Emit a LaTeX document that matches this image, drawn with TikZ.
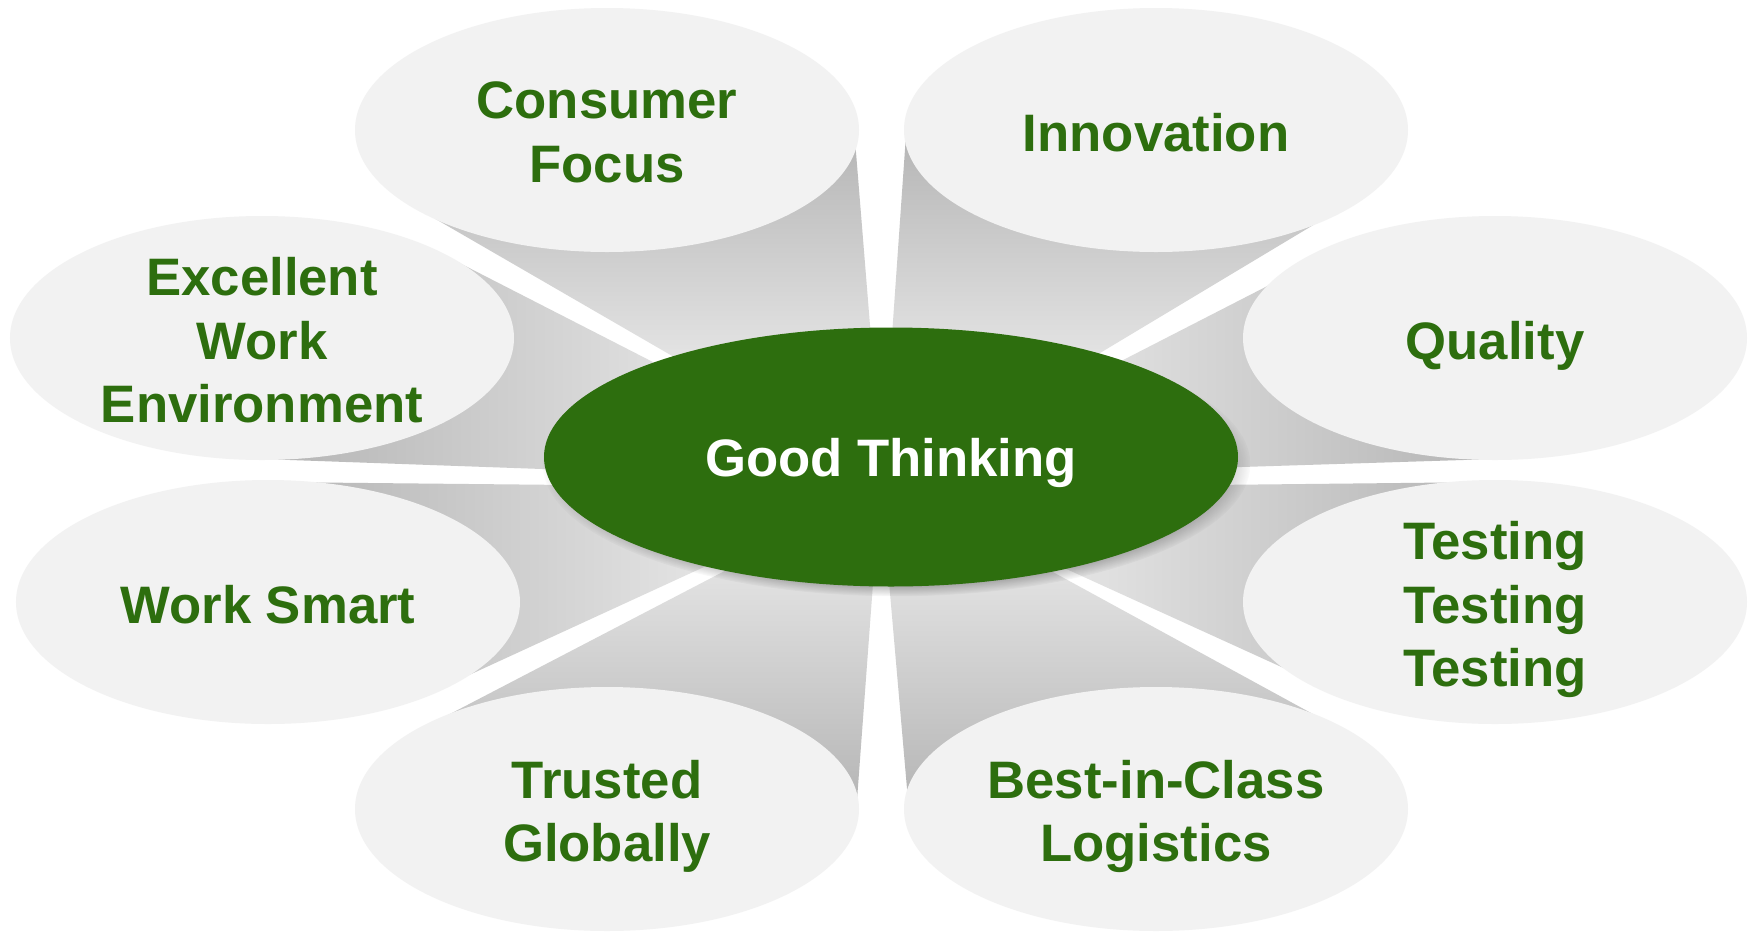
\documentclass[tikz,border=0pt]{standalone}
\usepackage{fontspec}
\setmainfont{Liberation Sans}
\usetikzlibrary{shapes.geometric,shadows}
\definecolor{goodgreen}{RGB}{45,110,14}
\definecolor{petalgray}{RGB}{242,242,242}
\definecolor{raydark}{RGB}{180,180,180}
\definecolor{raylight}{RGB}{248,248,248}
\tikzset{
  petal/.style={ellipse, fill=petalgray, minimum width=5.04cm, minimum height=2.44cm, inner sep=0pt},
  petaltext/.style={text=goodgreen, font=\fontsize{15}{18}\selectfont\bfseries, align=center,
    text depth=0pt, yshift=-0.02cm},
  hub/.style={ellipse, fill=goodgreen, minimum width=6.94cm, minimum height=2.59cm, inner sep=0pt,
    text=white, font=\fontsize{15}{18}\selectfont\bfseries, text depth=0pt,
    circular drop shadow={shadow xshift=1.5pt, shadow yshift=-2pt, shadow scale=1.02, fill=black, opacity=0.45}},
  upray/.style={top color=raydark, bottom color=raylight},
  downray/.style={top color=raylight, bottom color=raydark},
  leftray/.style={left color=raydark, right color=raylight},
  rightray/.style={left color=raylight, right color=raydark}
}
\begin{document}
\begin{tikzpicture}
  \fill[white] (0,0) rectangle (17.54,9.31);
  \useasboundingbox (0,0) rectangle (17.54,9.31);
  \coordinate (c) at (8.91,4.74);
  \shade[upray] (8.72,5.81) -- (8.55,7.91) -- (6.07,8.01) -- (4.20,7.21) -- (7.00,5.59) -- (c) -- cycle;
  \shade[upray] (8.91,5.81) -- (9.06,7.96) -- (11.56,8.01) -- (13.40,7.22) -- (10.80,5.66) -- (c) -- cycle;
  \shade[leftray] (6.90,5.50) -- (4.40,6.78) -- (2.62,5.93) -- (2.62,4.72) -- (5.70,4.61) -- (c) -- cycle;
  \shade[rightray] (10.90,5.54) -- (12.83,6.53) -- (14.95,5.93) -- (14.95,4.72) -- (12.10,4.63) -- (c) -- cycle;
  \shade[leftray] (5.70,4.46) -- (2.68,4.49) -- (2.68,3.29) -- (4.30,2.38) -- (7.30,3.76) -- (c) -- cycle;
  \shade[rightray] (12.10,4.46) -- (14.95,4.49) -- (14.95,3.29) -- (13.10,2.51) -- (10.40,3.74) -- (c) -- cycle;
  \shade[downray] (7.40,3.68) -- (4.25,2.04) -- (6.07,1.22) -- (8.57,1.31) -- (8.74,3.61) -- (c) -- cycle;
  \shade[downray] (8.88,3.61) -- (9.08,1.31) -- (11.56,1.22) -- (13.33,2.06) -- (10.40,3.66) -- (c) -- cycle;

  \node[petal] (consumer) at (6.07,8.01) {};
  \node[petal] (innovation) at (11.56,8.01) {};
  \node[petal] (workplace) at (2.62,5.93) {};
  \node[petal] (quality) at (14.95,5.93) {};
  \node[petal] (smart) at (2.68,3.29) {};
  \node[petal] (testing) at (14.95,3.29) {};
  \node[petal] (trusted) at (6.07,1.22) {};
  \node[petal] (logistics) at (11.56,1.22) {};

  \node[petaltext] (consumer-t) at (consumer) {Consumer\\Focus};
  \node[petaltext] (innovation-t) at (innovation) {Innovation};
  \node[petaltext] (workplace-t) at (workplace) {Excellent\\Work\\Environment};
  \node[petaltext] (quality-t) at (quality) {Quality};
  \node[petaltext] (smart-t) at (smart) {Work Smart};
  \node[petaltext] (testing-t) at (testing) {Testing\\Testing\\Testing};
  \node[petaltext] (trusted-t) at (trusted) {Trusted\\Globally};
  \node[petaltext] (logistics-t) at (logistics) {Best-in-Class\\Logistics};

  \node[hub] (hub) at (c) {Good Thinking};
\end{tikzpicture}
\end{document}
